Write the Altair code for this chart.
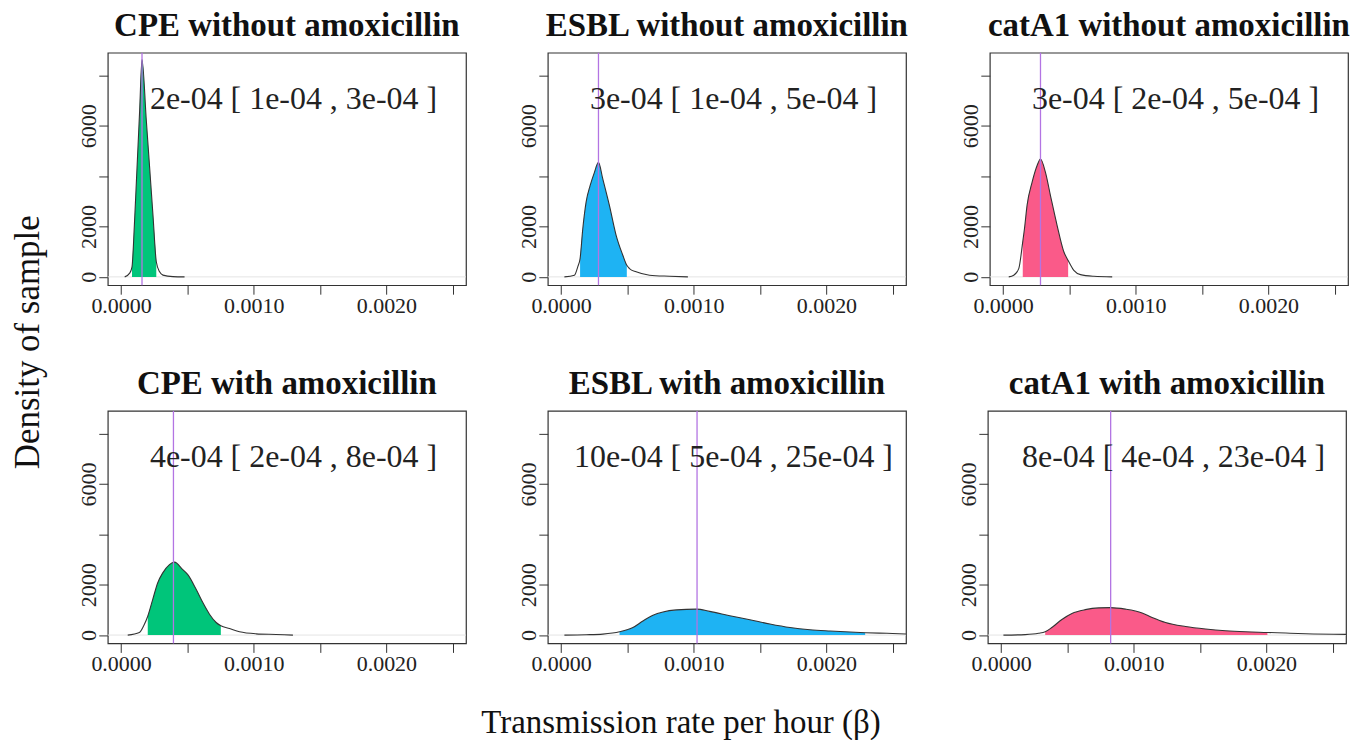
import altair as alt
import pandas as pd

# ---------------- data ----------------
titles = [
    "CPE without amoxicillin", "ESBL without amoxicillin", "catA1 without amoxicillin",
    "CPE with amoxicillin", "ESBL with amoxicillin", "catA1 with amoxicillin",
]
labels = [
    "2e-04 [ 1e-04 , 3e-04 ]", "3e-04 [ 1e-04 , 5e-04 ]", "3e-04 [ 2e-04 , 5e-04 ]",
    "4e-04 [ 2e-04 , 8e-04 ]", "10e-04 [ 5e-04 , 25e-04 ]", "8e-04 [ 4e-04 , 23e-04 ]",
]
fill_colors = ["#00C57A", "#1EB3F3", "#FA5A89", "#00C57A", "#1EB3F3", "#FA5A89"]

medians = [0.000158, 0.000282, 0.000282, 0.000395, 0.001025, 0.000826]
ci_low = [0.0000827, 0.0001434, 0.0001484, 0.0002013, 0.0004408, 0.0003325]
ci_high = [0.0002657, 0.0004956, 0.0004906, 0.0007522, 0.0022922, 0.0020076]

cpe_wo_x = [0.0000276, 0.0000652, 0.0000827, 0.0001000, 0.0001153, 0.0001404, 0.0001579,
            0.0001905, 0.0002155, 0.0002406, 0.0002657, 0.0002907, 0.0003158, 0.000391, 0.0004787]
cpe_wo_y = [0, 150, 400, 2000, 3740, 6620, 8630, 6210, 4340, 2460, 600, 200, 70, 10, 0]

esbl_wo_x = [0.0000252, 0.0001006, 0.0001258, 0.0001434, 0.0001635, 0.0001887, 0.0002189,
             0.0002516, 0.0002818, 0.0003145, 0.0003648, 0.0004151, 0.0004654, 0.0004956,
             0.0005157, 0.000566, 0.0006667, 0.0008176, 0.000956]
esbl_wo_y = [0, 66, 400, 725, 1900, 2970, 3620, 4150, 4547, 3890, 2830, 1650, 860, 460,
             330, 200, 66, 26, 0]

cat_wo_x = [0.0000428, 0.0000805, 0.0001182, 0.0001484, 0.000161, 0.0001811, 0.0002189,
            0.0002566, 0.0002818, 0.0003195, 0.0003572, 0.0004075, 0.0004579, 0.0004906,
            0.0005333, 0.0005836, 0.0006843, 0.0008226]
cat_wo_y = [0, 66, 330, 1400, 1900, 2850, 3760, 4420, 4680, 4150, 3230, 2040, 1000, 650,
            260, 90, 25, 0]

cpe_w_x = [0.0000503, 0.0001384, 0.0001761, 0.0002013, 0.000239, 0.0002767, 0.0003145,
           0.0003648, 0.0004025, 0.0004654, 0.0005031, 0.000566, 0.0006164, 0.0006667,
           0.000717, 0.0007522, 0.0008176, 0.0008931, 0.0010189, 0.0011698, 0.0012956]
cpe_w_y = [0, 105, 430, 750, 1420, 2080, 2470, 2800, 2895, 2600, 2400, 1820, 1290, 830,
           500, 370, 260, 130, 50, 25, 0]

esbl_w_x = [0.0000252, 0.0001889, 0.0003149, 0.0004408, 0.0005416, 0.0006171, 0.0006927,
            0.0007683, 0.000869, 0.0010202, 0.0011209, 0.001272, 0.0014232, 0.0015743,
            0.0017254, 0.0018766, 0.0020277, 0.0021788, 0.0022922, 0.0024559, 0.0026]
esbl_w_y = [0, 13, 40, 130, 300, 560, 790, 920, 1000, 1030, 940, 770, 610, 440,
            300, 210, 160, 120, 95, 70, 45]

cat_w_x = [0.0000176, 0.0001814, 0.0002821, 0.0003325, 0.0003829, 0.0004584, 0.000534,
           0.0006348, 0.0007355, 0.0008237, 0.000937, 0.001063, 0.0011385, 0.0012393,
           0.0013904, 0.0015416, 0.0016927, 0.0018438, 0.0020076, 0.0021461, 0.0022972, 0.0026]
cat_w_y = [0, 20, 70, 130, 300, 620, 860, 1010, 1080, 1090, 1030, 880, 700, 500,
           340, 240, 170, 130, 105, 80, 55, 30]

curves_x = [cpe_wo_x, esbl_wo_x, cat_wo_x, cpe_w_x, esbl_w_x, cat_w_x]
curves_y = [cpe_wo_y, esbl_wo_y, cat_wo_y, cpe_w_y, esbl_w_y, cat_w_y]

x_tick_values = [0.0, 0.0005, 0.0010, 0.0015, 0.0020, 0.0025]
x_tick_labelled = [0.0, 0.0010, 0.0020]
y_tick_values = [0, 2000, 4000, 6000, 8000]
y_tick_labelled = [0, 2000, 6000]

label_x = 0.0013
label_y = 7050

# ---------------- styling ----------------
FONT = "Liberation Serif"
X_DOMAIN = [-0.0001, 0.0026]
Y_DOMAIN = [-330, 8900]

x_label_expr = "(" + " || ".join(
    f"abs(datum.value - {v}) < 1e-9" for v in x_tick_labelled) + ") ? format(datum.value, '.4f') : ''"
y_label_expr = "(" + " || ".join(
    f"datum.value == {v}" for v in y_tick_labelled) + ") ? format(datum.value, 'd') : ''"

x_axis = alt.Axis(values=x_tick_values, labelExpr=x_label_expr, title=None, grid=False,
                  domain=False, tickSize=9, tickColor="#333", labelPadding=1,
                  labelFont=FONT, labelFontSize=22, labelColor="#222", labelFlush=False,
                  labelOverlap=False)
y_axis = alt.Axis(values=y_tick_values, labelExpr=y_label_expr, title=None, grid=False,
                  domain=False, tickSize=9, tickColor="#333", labelPadding=3,
                  labelAngle=270, labelAlign="center", labelBaseline="alphabetic",
                  labelFont=FONT, labelFontSize=22, labelColor="#222", labelFlush=False,
                  labelOverlap=False)

x_scale = alt.Scale(domain=X_DOMAIN, nice=False, zero=False)
y_scale = alt.Scale(domain=Y_DOMAIN, nice=False, zero=False)


def panel(i):
    df = pd.DataFrame({"x": curves_x[i], "y": curves_y[i]})
    one = pd.DataFrame({"median": [medians[i]], "label": [labels[i]],
                        "lx": [label_x], "ly": [label_y], "zero": [0]})
    base = alt.Chart(df)
    single = alt.Chart(one)
    area = base.mark_area(color=fill_colors[i], opacity=1, interpolate="monotone", clip=True).encode(
        x=alt.X("x:Q", scale=x_scale, axis=x_axis),
        y=alt.Y("y:Q", scale=y_scale, axis=y_axis),
        y2=alt.Y2(datum=0),
    ).transform_filter(alt.FieldRangePredicate(field="x", range=[ci_low[i], ci_high[i]]))
    zero = single.mark_rule(color="#e4e4e4", strokeWidth=1).encode(
        y=alt.Y("zero:Q", scale=y_scale, axis=y_axis))
    line = base.mark_line(color="#333", strokeWidth=1.1, interpolate="monotone", clip=True).encode(
        x=alt.X("x:Q", scale=x_scale, axis=x_axis),
        y=alt.Y("y:Q", scale=y_scale, axis=y_axis),
    )
    med = single.mark_rule(color="#B374E3", strokeWidth=1.3).encode(
        x=alt.X("median:Q", scale=x_scale, axis=x_axis))
    txt = single.mark_text(font=FONT, fontSize=32, color="#222",
                           align="center", baseline="middle").encode(
        x=alt.X("lx:Q", scale=x_scale, axis=x_axis),
        y=alt.Y("ly:Q", scale=y_scale, axis=y_axis),
        text="label:N")
    return alt.layer(zero, area, line, med, txt).properties(
        width=359, height=233,
        title=alt.TitleParams(titles[i], font=FONT, fontSize=33, fontWeight="bold",
                              color="#111", anchor="middle", offset=9),
    )


row1 = alt.hconcat(panel(0), panel(1), panel(2), spacing=49)
row2 = alt.hconcat(panel(3), panel(4), panel(5), spacing=49)
grid = alt.vconcat(row1, row2, spacing=50).properties(
    title=alt.TitleParams("Density of sample", orient="left", anchor="middle",
                          font=FONT, fontSize=35, fontWeight="normal", color="#111", offset=31)
)
chart = alt.vconcat(grid).properties(
    title=alt.TitleParams("Transmission rate per hour (β)", orient="bottom", anchor="middle",
                          font=FONT, fontSize=33, fontWeight="normal", color="#111",
                          offset=26, dy=6),
    padding={"top": 0, "left": 3, "right": 0, "bottom": 0},
).configure_view(stroke="#333", strokeWidth=1.2).configure_concat(spacing=0)

chart.save("out.html", embed_options={"renderer": "svg", "actions": False})
